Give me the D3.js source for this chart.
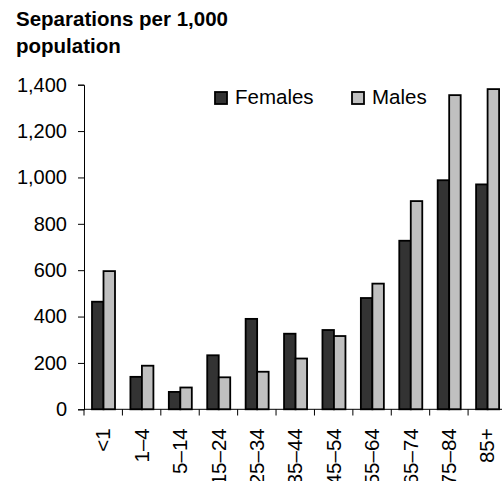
<!DOCTYPE html>
<html>
<head>
<meta charset="utf-8">
<script src="https://cdn.jsdelivr.net/npm/d3@7"></script>
<style>
  body { margin: 0; background: #fff; }
  text { font-family: Arial, "Liberation Sans", sans-serif; fill: #000; }
</style>
</head>
<body>
<div id="chart"></div>
<script>
var categories = ["<1", "1–4", "5–14", "15–24", "25–34", "35–44", "45–54", "55–64", "65–74", "75–84", "85+"];
var females = [464, 140, 75, 233, 390, 326, 342, 480, 727, 988, 970];
var males = [596, 188, 94, 138, 162, 219, 316, 542, 898, 1355, 1381];
var seriesNames = ["Females", "Males"];
var yTicks = [0, 200, 400, 600, 800, 1000, 1200, 1400];

var colors = { Females: "#333333", Males: "#c0c0c0" };

var svg = d3.select("#chart")
  .append("svg")
  .attr("width", 502)
  .attr("height", 481);

// title
svg.append("text").attr("x", 16).attr("y", 26)
  .style("font-weight", "bold").style("font-size", "20.5px")
  .text("Separations per 1,000");
svg.append("text").attr("x", 16).attr("y", 53)
  .style("font-weight", "bold").style("font-size", "20.5px")
  .text("population");

var x = d3.scaleBand().domain(categories).range([84, 506.5]);
var xSub = d3.scaleBand().domain(seriesNames).range([8, 31]);
var y = d3.scaleLinear().domain([0, 1400]).range([409.3, 84.7]);

var rows = categories.map(function(c, i) {
  return { cat: c, values: [{ key: "Females", v: females[i] }, { key: "Males", v: males[i] }] };
});

// bars
var groups = svg.append("g").selectAll("g")
  .data(rows)
  .join("g")
  .attr("transform", function(d) { return "translate(" + x(d.cat) + ",0)"; });

groups.selectAll("rect")
  .data(function(d) { return d.values; })
  .join("rect")
  .attr("x", function(d) { return xSub(d.key); })
  .attr("width", xSub.bandwidth())
  .attr("y", function(d) { return y(d.v); })
  .attr("height", function(d) { return y(0) - y(d.v); })
  .attr("fill", function(d) { return colors[d.key]; })
  .attr("stroke", "#000")
  .attr("stroke-width", 1.8);

// y axis
var yAxis = svg.append("g")
  .attr("transform", "translate(84,0)")
  .call(d3.axisLeft(y).tickValues(yTicks).tickSize(6).tickPadding(11).tickFormat(d3.format(",")));
yAxis.selectAll("text").style("font-size", "20px");

// x axis
var xAxis = svg.append("g")
  .attr("transform", "translate(0,409.3)")
  .call(d3.axisBottom(x).tickSize(0).tickPadding(0));
xAxis.select(".domain").attr("d", "M84,0H502");
xAxis.selectAll("text")
  .style("font-size", "20.5px")
  .attr("text-anchor", "end")
  .attr("dy", "0.35em")
  .attr("transform", "translate(0,19) rotate(-90)");

// x ticks at category boundaries
svg.append("g").selectAll("line")
  .data(categories)
  .join("line")
  .attr("x1", function(d) { return x(d); })
  .attr("x2", function(d) { return x(d); })
  .attr("y1", 409.3)
  .attr("y2", 415.5)
  .attr("stroke", "#000");

svg.selectAll(".domain, .tick line").attr("stroke", "#000");

// legend
var legend = svg.append("g").selectAll("g")
  .data(seriesNames)
  .join("g")
  .attr("transform", function(d, i) { return "translate(" + (215 + i * 137) + ",92)"; });
legend.append("rect")
  .attr("width", 12).attr("height", 12)
  .attr("fill", function(d) { return colors[d]; })
  .attr("stroke", "#000").attr("stroke-width", 1.8);
legend.append("text")
  .attr("x", 20).attr("y", 12)
  .style("font-size", "20.5px")
  .text(function(d) { return d; });
</script>
</body>
</html>
